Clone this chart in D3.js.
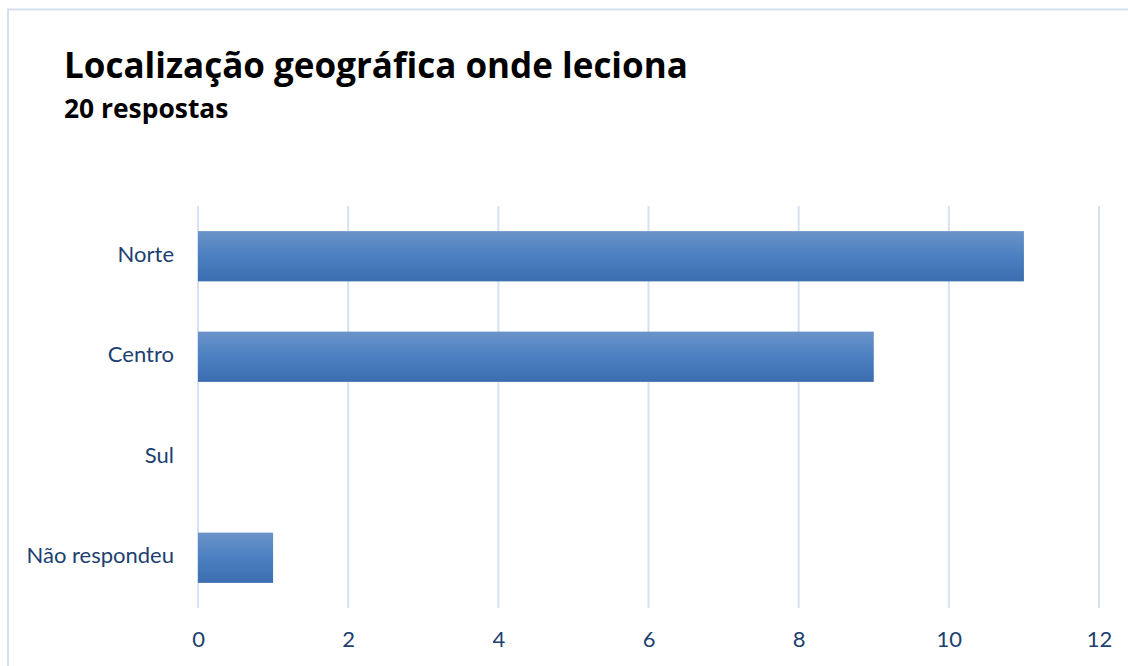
<!DOCTYPE html>
<html>
<head>
<meta charset="utf-8">
<script src="https://cdn.jsdelivr.net/npm/d3@7"></script>
<style>
  html, body { margin: 0; padding: 0; background: #fff; }
  svg { display: block; }
</style>
</head>
<body>
<svg id="chart" width="1128" height="666"></svg>
<script>
// Responses per region
const categories = ["Norte", "Centro", "Sul", "Não respondeu"];
const counts = [11, 9, 0, 1];
const xTicks = [0, 2, 4, 6, 8, 10, 12];
const title = "Localização geográfica onde leciona";
const subtitle = "20 respostas";

const svg = d3.select("#chart");
const W = 1128, H = 666;
const margin = { left: 198, right: 29, top: 206, bottom: 58 };
const textColor = "#203f70";
const font = "Lato, 'Open Sans', sans-serif";
const titleFont = "'Open Sans', Lato, sans-serif";

// outer frame
svg.append("rect")
  .attr("x", 8).attr("y", 9.5)
  .attr("width", W + 20).attr("height", H + 20)
  .attr("fill", "#fff")
  .attr("stroke", "#d5dfee").attr("stroke-width", 2);

// bar fill: lighter at the top, darker at the bottom
const defs = svg.append("defs");
const grad = defs.append("linearGradient")
  .attr("id", "barFill").attr("x1", 0).attr("y1", 0).attr("x2", 0).attr("y2", 1);
grad.append("stop").attr("offset", "0%").attr("stop-color", "#6b93c9");
grad.append("stop").attr("offset", "50%").attr("stop-color", "#4a80c1");
grad.append("stop").attr("offset", "100%").attr("stop-color", "#3b6daf");

const x = d3.scaleLinear()
  .domain([0, 12])
  .range([margin.left, W - margin.right]);

const y = d3.scaleBand()
  .domain(categories)
  .range([margin.top, H - margin.bottom])
  .paddingInner(0.5)
  .paddingOuter(0.25);

// vertical gridlines
svg.append("g").selectAll("line")
  .data(xTicks)
  .join("line")
  .attr("x1", d => x(d)).attr("x2", d => x(d))
  .attr("y1", margin.top).attr("y2", H - margin.bottom)
  .attr("stroke", "#d6e2f3").attr("stroke-width", 2);

// bars
svg.append("g").selectAll("rect")
  .data(categories.map((c, i) => ({ c, v: counts[i] })))
  .join("rect")
  .attr("x", x(0))
  .attr("y", d => y(d.c))
  .attr("width", d => x(d.v) - x(0))
  .attr("height", y.bandwidth())
  .attr("fill", "url(#barFill)");

// x-axis labels
const xAxis = d3.axisBottom(x).tickValues(xTicks).tickSize(0).tickPadding(0);
const gx = svg.append("g")
  .attr("transform", `translate(0,${H - margin.bottom + 23})`)
  .call(xAxis);
gx.select(".domain").remove();
gx.selectAll("text")
  .attr("fill", textColor)
  .style("font-family", font)
  .style("font-size", "22px")
  .attr("dy", "0.71em");

// category labels
const yAxis = d3.axisLeft(y).tickSize(0).tickPadding(24);
const gy = svg.append("g")
  .attr("transform", `translate(${margin.left},0)`)
  .call(yAxis);
gy.select(".domain").remove();
gy.selectAll("text")
  .attr("fill", textColor)
  .style("font-family", font)
  .style("font-size", "22px")
  .attr("dy", "0.25em");

// titles
svg.append("text")
  .attr("x", 64).attr("y", 78)
  .style("font-family", titleFont)
  .style("font-weight", "bold")
  .style("font-size", "35px")
  .attr("fill", "#000")
  .text(title);

svg.append("text")
  .attr("x", 64).attr("y", 118)
  .style("font-family", titleFont)
  .style("font-weight", "bold")
  .style("font-size", "26.4px")
  .attr("fill", "#000")
  .text(subtitle);
</script>
</body>
</html>
